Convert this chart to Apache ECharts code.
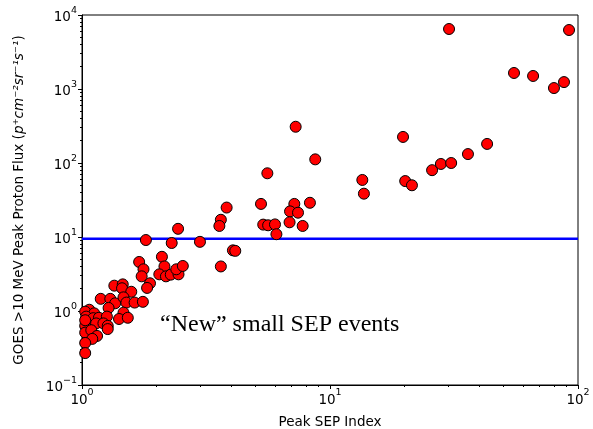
<!DOCTYPE html>
<html>
<head>
<meta charset="utf-8">
<script src="https://cdn.jsdelivr.net/npm/echarts@6/dist/echarts.min.js"></script>
<style>html,body{margin:0;padding:0;background:#fff}#c{width:593px;height:429px}</style>
</head>
<body>
<div id="c"></div>
<script>
// Peak SEP Index (x) and GOES >10 MeV peak proton flux (y)
var sepIndex = [
  30.2, 92, 55.2, 65.9, 80, 87.8, 19.7, 20.1, 21.4, 25.8, 28, 30.8, 36, 43,
  13.5, 13.7, 7.27, 8.72, 5.59, 3.83, 3.63, 3.58, 5.27, 7.18, 8.3, 6.9, 7.43,
  5.38, 5.63, 6.0, 6.87, 7.76, 6.08, 2.99, 4.06, 4.15, 3.63,
  1.81, 2.44, 2.30, 1.70, 1.77, 1.74, 1.88, 2.10, 2.15, 2.05, 2.18, 2.28, 2.45, 2.40, 2.55,
  1.35, 1.46, 1.45, 1.58, 1.83,
  1.19, 1.30, 1.36, 1.47, 1.51, 1.63, 1.76, 1.28, 1.47, 1.41, 1.53,
  1.07, 1.03, 1.12, 1.04, 1.11, 1.17, 1.26, 1.14, 1.22, 1.27, 1.27, 1.03, 1.03, 1.09, 1.15, 1.10, 1.03, 1.03, 1.03
];
var protonFlux = [
  6470, 6270, 1646, 1500, 1030, 1240, 225, 57, 50, 80, 97, 100, 132, 181,
  59, 38.5, 309, 112, 72.6, 25, 17.1, 14.1, 28, 28, 29, 22.2, 21.3,
  14.7, 14.4, 14.8, 15.8, 14.1, 10.9, 8.6, 6.6, 6.5, 4.0,
  9.1, 12.9, 8.3, 4.6, 3.66, 2.94, 2.37, 5.4, 4.0, 3.13, 2.94, 3.1, 3.13, 3.66, 4.06,
  2.2, 2.29, 2.03, 1.82, 2.05,
  1.46, 1.46, 1.27, 1.53, 1.30, 1.30, 1.33, 1.10, 0.95, 0.78, 0.81,
  1.04, 0.98, 0.93, 0.84, 0.80, 0.81, 0.84, 0.68, 0.68, 0.63, 0.57, 0.63, 0.51, 0.55, 0.46, 0.42, 0.37, 0.27, 0.75
];
var thresholdFlux = 9.5;
var xRange = [1, 100];
var yRange = [0.1, 10000];
var xTickValues = [1, 10, 100];
var yTickValues = [0.1, 1, 10, 100, 1000, 10000];
var xMinorTicks = [2,3,4,5,6,7,8,9,20,30,40,50,60,70,80,90];
var yMinorTicks = [0.2,0.3,0.4,0.5,0.6,0.7,0.8,0.9,2,3,4,5,6,7,8,9,20,30,40,50,60,70,80,90,200,300,400,500,600,700,800,900,2000,3000,4000,5000,6000,7000,8000,9000];
var xTitle = 'Peak SEP Index';
var yTitle = 'GOES >10 MeV Peak Proton Flux ({i|p⁺cm⁻²sr⁻¹s⁻¹})';
var annotation = '\u201cNew\u201d small SEP events';

function powLabel(v){
  var e = Math.round(Math.log10(v));
  var s = String(e).replace('-', '\u2212');
  return '{b|10}{s|' + s + '}';
}
var points = sepIndex.map(function(x,i){return [x, protonFlux[i]];});
var font = 'DejaVu Sans';
var fs = 13.5;
var tickRich = {
  b:{fontFamily:font, fontSize:fs, color:'#000', lineHeight:19, verticalAlign:'bottom'},
  s:{fontFamily:font, fontSize:9.5, color:'#000', lineHeight:19, verticalAlign:'top'}
};

var chart = echarts.init(document.getElementById('c'), null, {renderer:'canvas'});
chart.setOption({
  animation:false,
  backgroundColor:'#fff',
  grid:{left:82, right:15, top:15, bottom:44, show:true, borderColor:'#000', borderWidth:1, containLabel:false, outerBoundsMode:'none'},
  xAxis:[{
    type:'log', logBase:10, min:xRange[0], max:xRange[1],
    name:xTitle, nameLocation:'middle', nameGap:30,
    nameTextStyle:{fontFamily:font, fontSize:fs, color:'#000'},
    axisLine:{show:true, lineStyle:{color:'#000', width:1}},
    axisTick:{show:true, inside:false, length:4, lineStyle:{color:'#000'}, customValues:xTickValues},
    axisLabel:{show:true, margin:3, customValues:xTickValues, formatter:powLabel, rich:tickRich},
    splitLine:{show:false}
  },{
    type:'log', logBase:10, min:xRange[0], max:xRange[1], position:'bottom',
    axisLine:{show:false},
    axisTick:{show:true, length:2, lineStyle:{color:'#000'}, customValues:xMinorTicks},
    axisLabel:{show:false},
    splitLine:{show:false}
  }],
  yAxis:[{
    type:'log', logBase:10, min:yRange[0], max:yRange[1],
    name:yTitle, nameLocation:'middle', nameGap:56,
    nameTextStyle:{fontFamily:font, fontSize:fs, color:'#000', rich:{i:{fontFamily:font, fontSize:fs, fontStyle:'italic', color:'#000'}}},
    axisLine:{show:true, lineStyle:{color:'#000', width:1}},
    axisTick:{show:true, inside:false, length:4, lineStyle:{color:'#000'}, customValues:yTickValues},
    axisLabel:{show:true, margin:5, customValues:yTickValues, formatter:powLabel, rich:tickRich},
    splitLine:{show:false}
  },{
    type:'log', logBase:10, min:yRange[0], max:yRange[1], position:'left',
    axisLine:{show:false},
    axisTick:{show:true, length:2, lineStyle:{color:'#000'}, customValues:yMinorTicks},
    axisLabel:{show:false},
    splitLine:{show:false}
  }],
  series:[{
    type:'line', data:[[xRange[0], thresholdFlux],[xRange[1], thresholdFlux]],
    symbol:'none', lineStyle:{color:'#0000ff', width:2.5}, z:1, silent:true
  },{
    type:'scatter', data:points, symbol:'circle', symbolSize:11,
    itemStyle:{color:'#ff0000', borderColor:'#000', borderWidth:1, opacity:1}, z:2
  }],
  graphic:[{
    type:'text', left:160, top:313,
    style:{text:annotation, font:'24px "Liberation Serif"', fill:'#000'}
  }]
});
</script>
</body>
</html>
